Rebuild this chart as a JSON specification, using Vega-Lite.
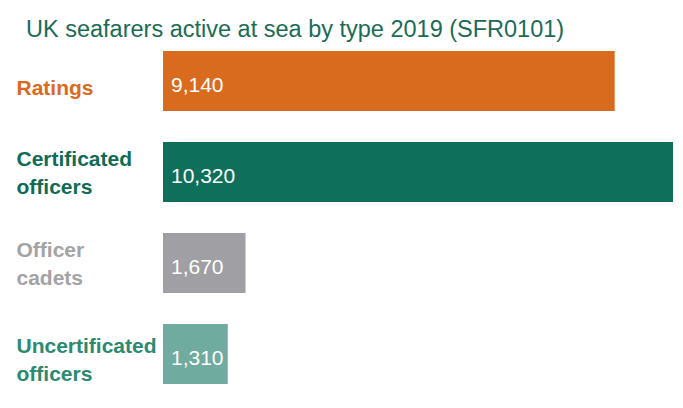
{
  "$schema": "https://vega.github.io/schema/vega-lite/v6.json",
  "width": 510,
  "height": 364,
  "autosize": {"type": "none"},
  "padding": {"left": 163, "top": 35.5, "right": 10, "bottom": 8.5},
  "background": "white",
  "title": {
    "text": "UK seafarers active at sea by type 2019 (SFR0101)",
    "anchor": "start",
    "frame": "group",
    "dx": -137,
    "dy": 10,
    "offset": 4,
    "font": "Liberation Sans",
    "fontSize": 23.5,
    "fontWeight": "normal",
    "color": "#1b6b57"
  },
  "config": {"view": {"stroke": null}},
  "data": {
    "values": [
      {"type": "Ratings", "value": 9140},
      {"type": "Certificated officers", "value": 10320},
      {"type": "Officer cadets", "value": 1670},
      {"type": "Uncertificated officers", "value": 1310}
    ]
  },
  "encoding": {
    "y": {
      "field": "type",
      "type": "nominal",
      "sort": null,
      "scale": {"paddingInner": 0.34, "paddingOuter": 0.17},
      "axis": {
        "title": null,
        "domain": false,
        "ticks": false,
        "labelExpr": "split(datum.label, ' ')",
        "labelFont": "Liberation Sans",
        "labelFontSize": 21,
        "labelFontWeight": "bold",
        "labelAlign": "left",
        "labelBaseline": "middle",
        "labelPadding": 147,
        "labelLineHeight": 28,
        "labelLimit": 0,
        "labelOffset": {
          "condition": [
            {"test": "datum.value === 'Ratings'", "value": 8},
            {"test": "datum.value === 'Uncertificated officers'", "value": -7}
          ],
          "value": -12.5
        },
        "labelColor": {
          "condition": [
            {"test": "datum.value === 'Ratings'", "value": "#d96a1e"},
            {"test": "datum.value === 'Certificated officers'", "value": "#0f6b55"},
            {"test": "datum.value === 'Officer cadets'", "value": "#a3a3a6"}
          ],
          "value": "#2b8a71"
        }
      }
    }
  },
  "layer": [
    {
      "mark": {"type": "bar"},
      "encoding": {
        "x": {
          "field": "value",
          "type": "quantitative",
          "scale": {"domain": [0, 10320], "nice": false, "zero": true},
          "axis": null
        },
        "color": {
          "field": "type",
          "type": "nominal",
          "scale": {
            "domain": ["Ratings", "Certificated officers", "Officer cadets", "Uncertificated officers"],
            "range": ["#d96b1e", "#0e705b", "#a0a0a4", "#6fab9e"]
          },
          "legend": null
        }
      }
    },
    {
      "mark": {
        "type": "text",
        "align": "left",
        "baseline": "middle",
        "dx": 8,
        "dy": 5,
        "font": "Liberation Sans",
        "fontSize": 21,
        "color": "white"
      },
      "encoding": {
        "x": {"datum": 0, "type": "quantitative"},
        "text": {"field": "value", "type": "quantitative", "format": ","}
      }
    }
  ]
}
